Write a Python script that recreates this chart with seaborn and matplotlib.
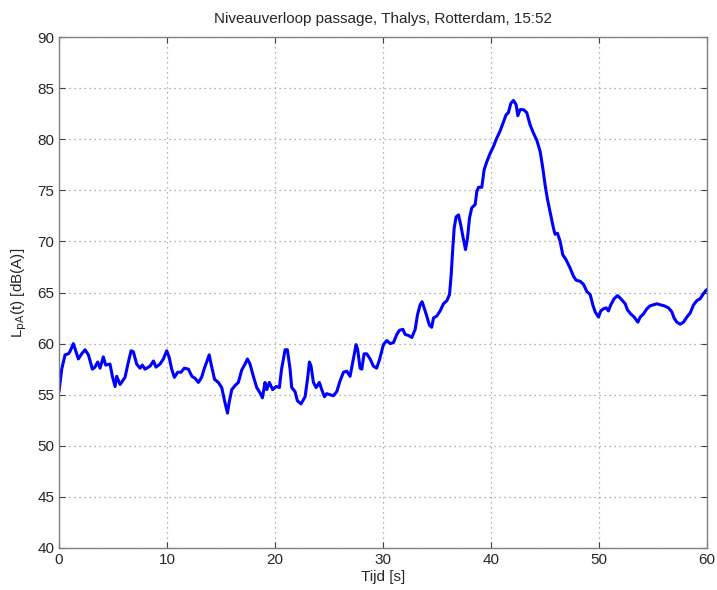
import pandas as pd
import seaborn as sns
import matplotlib.pyplot as plt

# tijd [s] en niveau [dB(A)]
tijd = [0.0, 0.25, 0.56, 0.86, 1.0, 1.33, 1.54, 1.79, 2.1, 2.41, 2.72, 3.09, 3.33, 3.58, 3.8,
        4.1, 4.32, 4.72, 4.94, 5.19, 5.34, 5.65, 6.11, 6.42, 6.67, 6.88, 7.19, 7.5, 7.72, 7.96,
        8.43, 8.74, 8.98, 9.35, 9.66, 9.97, 10.19, 10.43, 10.68, 10.99, 11.3, 11.6, 11.98, 12.3,
        12.6, 12.9, 13.2, 13.46, 13.67, 13.9, 14.1, 14.4, 14.75, 15.06, 15.37, 15.6, 15.74, 15.99,
        16.3, 16.6, 16.91, 17.22, 17.44, 17.68, 17.99, 18.3, 18.6, 18.83, 19.07, 19.23, 19.47,
        19.78, 20.1, 20.4, 20.6, 20.93, 21.14, 21.39, 21.54, 21.85, 22.07, 22.4, 22.78, 23.0,
        23.18, 23.33, 23.55, 23.8, 24.1, 24.32, 24.57, 24.78, 25.09, 25.4, 25.71, 26.0, 26.33,
        26.64, 26.94, 27.19, 27.5, 27.65, 27.87, 28.03, 28.24, 28.49, 28.8, 29.1, 29.4, 29.66,
        30.03, 30.34, 30.65, 30.96, 31.27, 31.51, 31.83, 32.04, 32.35, 32.66, 32.97, 33.18,
        33.43, 33.61, 33.8, 34.04, 34.29, 34.5, 34.66, 34.97, 35.28, 35.59, 35.9, 36.15, 36.3,
        36.45, 36.58, 36.76, 36.98, 37.19, 37.44, 37.63, 37.81, 38.0, 38.21, 38.52, 38.68, 38.83,
        39.14, 39.35, 39.6, 39.9, 40.22, 40.52, 40.83, 41.14, 41.39, 41.6, 41.82, 42.07, 42.31,
        42.47, 42.68, 42.99, 43.3, 43.61, 43.92, 44.23, 44.54, 44.78, 45.0, 45.22, 45.46, 45.77,
        45.92, 46.14, 46.39, 46.63, 46.94, 47.31, 47.62, 47.87, 48.24, 48.55, 48.86, 49.17,
        49.41, 49.63, 49.94, 50.15, 50.4, 50.65, 50.86, 51.08, 51.39, 51.7, 52.0, 52.41, 52.62,
        52.93, 53.24, 53.58, 53.8, 54.1, 54.41, 54.72, 55.03, 55.34, 55.65, 56.02, 56.42, 56.73,
        56.94, 57.19, 57.5, 57.81, 58.12, 58.43, 58.74, 59.04, 59.35, 59.66, 59.88, 60.0]
niveau = [55.3, 57.5, 58.9, 59.0, 59.2, 60.0, 59.3, 58.5, 59.0, 59.4, 58.9, 57.5, 57.7, 58.2, 57.6,
          58.7, 57.9, 58.0, 56.8, 55.8, 56.8, 56.0, 56.7, 58.2, 59.3, 59.2, 58.0, 57.6, 57.9, 57.5,
          57.8, 58.3, 57.7, 58.0, 58.5, 59.3, 58.7, 57.5, 56.7, 57.2, 57.2, 57.6, 57.5, 56.8,
          56.6, 56.2, 56.7, 57.6, 58.2, 58.9, 57.9, 56.5, 56.2, 55.7, 54.2, 53.2, 54.2, 55.5,
          55.9, 56.2, 57.4, 58.0, 58.5, 58.0, 56.8, 55.7, 55.2, 54.7, 56.2, 55.5, 56.2,
          55.5, 55.8, 55.7, 57.5, 59.4, 59.4, 57.5, 55.7, 55.3, 54.4, 54.1, 54.8, 56.5,
          58.2, 57.8, 56.2, 55.7, 56.2, 55.5, 54.8, 55.1, 55.0, 54.9, 55.3, 56.3, 57.2,
          57.3, 56.8, 58.2, 59.9, 59.4, 57.6, 57.5, 59.0, 59.0, 58.5, 57.8, 57.6, 58.4,
          59.9, 60.3, 60.0, 60.1, 60.9, 61.3, 61.4, 60.9, 60.8, 60.6, 61.4, 62.8,
          63.8, 64.1, 63.5, 62.7, 61.8, 61.6, 62.5, 62.7, 63.2, 63.9, 64.2, 64.8, 66.7,
          69.3, 71.3, 72.4, 72.6, 71.6, 70.2, 69.2, 70.3, 72.3, 73.3, 73.6, 74.9, 75.3,
          75.3, 77.0, 77.8, 78.6, 79.3, 80.1, 80.8, 81.7, 82.4, 82.6, 83.5, 83.8, 83.4,
          82.3, 82.9, 82.9, 82.6, 81.4, 80.6, 79.9, 78.8, 77.2, 75.5, 74.1, 72.9, 71.3,
          70.7, 70.8, 70.0, 68.7, 68.2, 67.4, 66.6, 66.2, 66.1, 65.8, 65.1, 64.8,
          63.8, 63.1, 62.6, 63.2, 63.4, 63.5, 63.2, 63.8, 64.4, 64.7, 64.4, 63.9, 63.3,
          62.9, 62.6, 62.1, 62.6, 62.9, 63.4, 63.7, 63.8, 63.9, 63.8, 63.7, 63.5, 63.1,
          62.5, 62.1, 61.9, 62.1, 62.6, 63.0, 63.8, 64.2, 64.4, 64.9, 65.2, 65.3]

df = pd.DataFrame({"Tijd": tijd, "LpA": niveau})

sns.set_style("white")
plt.rcParams['font.family'] = ['Liberation Sans', 'DejaVu Sans']

fig = plt.figure(figsize=(7.17, 5.90), dpi=100)
ax = fig.add_axes([0.0823, 0.0712, 0.904, 0.866])
sns.lineplot(data=df, x="Tijd", y="LpA", color="#0000ff", linewidth=2.2, ax=ax)

ax.set_xlim(0, 60)
ax.set_ylim(40, 90)
ax.set_xticks(range(0, 61, 10))
ax.set_yticks(range(40, 91, 5))
ax.grid(True, linestyle=(0, (1, 3)), color='#999999', linewidth=0.9)
for s in ax.spines.values():
    s.set_color('#808080')
    s.set_linewidth(1.0)
ax.tick_params(direction='in', length=4, color='#404040', labelsize=11,
               top=True, right=True, bottom=True, left=True)
ax.set_xlabel('Tijd [s]', fontsize=11, labelpad=2)
ax.set_ylabel(r'L$_{\mathrm{pA}}$(t) [dB(A)]', fontsize=11, labelpad=6)
ax.set_title('Niveauverloop passage, Thalys, Rotterdam, 15:52', fontsize=11, pad=10)

fig.savefig("out.png", dpi=100, facecolor='white')
